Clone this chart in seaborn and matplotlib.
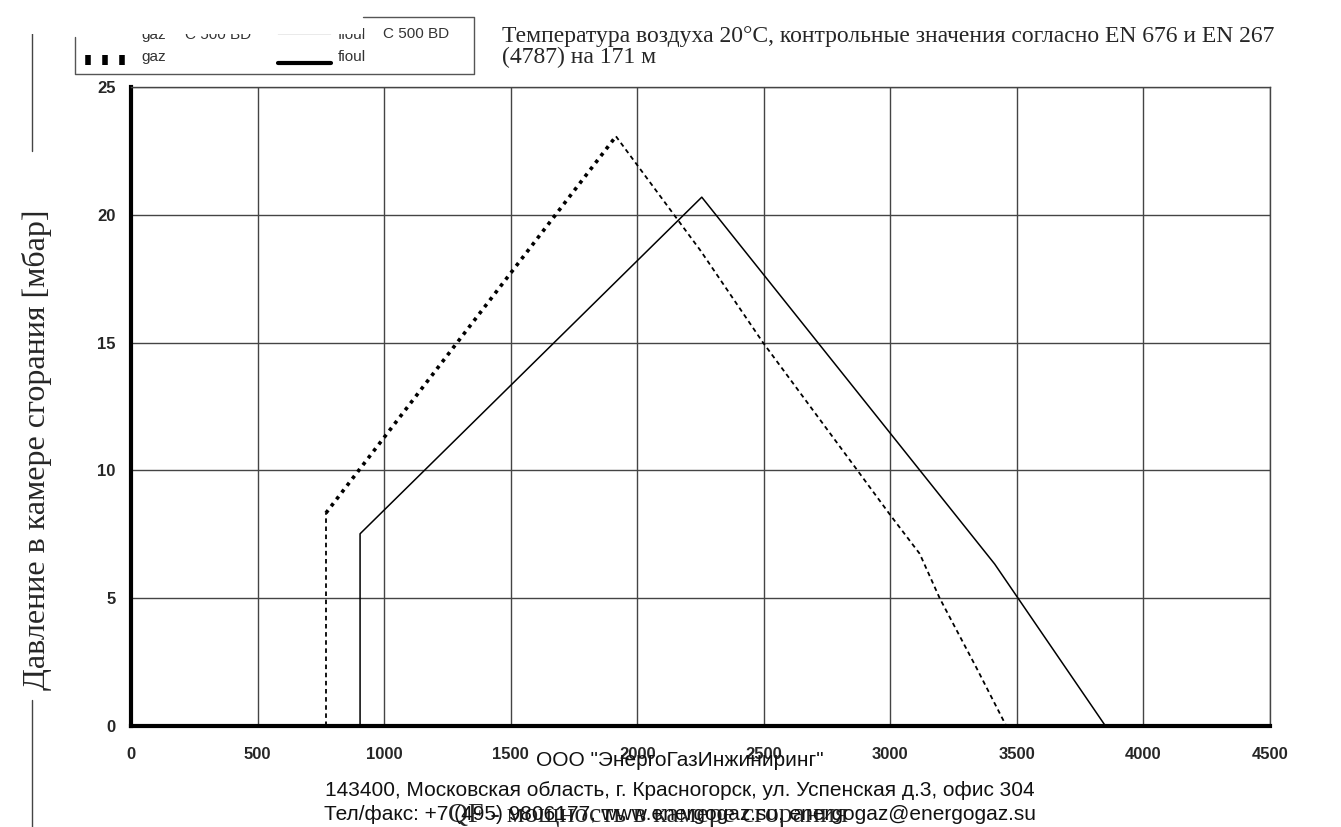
import matplotlib
matplotlib.use("Agg")
import matplotlib.pyplot as plt
from matplotlib.lines import Line2D
from matplotlib.patches import Rectangle
import seaborn as sns
import pandas as pd

# Courbes de fonctionnement
gaz_x = [770, 770, 1916, 2250, 2497, 2870, 3000, 3116, 3195, 3339, 3458]
gaz_y = [0, 8.33, 23.07, 18.6, 15.0, 10.0, 8.25, 6.74, 5.0, 2.3, 0]

fioul_x = [905, 905, 2255, 3412, 3850]
fioul_y = [0, 7.52, 20.69, 6.34, 0]

x_ticks = [0, 500, 1000, 1500, 2000, 2500, 3000, 3500, 4000, 4500]
y_ticks = [0, 5, 10, 15, 20, 25]

titre = "Температура воздуха 20°C, контрольные значения согласно EN 676 и EN 267\n(4787) на 171 м"
label_y = "Давление в камере сгорания [мбар]"
label_x = "QF - мощность в камере сгорания"
adresse = ['ООО "ЭнергоГазИнжиниринг"',
           "143400, Московская область, г. Красногорск, ул. Успенская д.3, офис 304",
           "Тел/факс: +7 (495) 9806177, www.energogaz.su, energogaz@energogaz.su"]

sns.set_style("white")
plt.rcParams['font.family'] = ['Liberation Sans', 'DejaVu Sans']

W, H = 1341, 827
fig = plt.figure(figsize=(W / 100, H / 100), dpi=100)


def fx(px):
    return px / W


def fy(py):
    return 1 - py / H


ax = fig.add_axes([fx(131), fy(726), fx(1270) - fx(131), fy(87) - fy(726)])

df_gaz = pd.DataFrame({"x": gaz_x, "y": gaz_y})
df_fioul = pd.DataFrame({"x": fioul_x, "y": fioul_y})

# gaz : montée en pointillé épais, le reste en tirets fins
sns.lineplot(data=df_gaz.iloc[0:2], x="x", y="y", sort=False, estimator=None,
             color="black", lw=1.3, linestyle=(0, (2.5, 2)), ax=ax)
sns.lineplot(data=df_gaz.iloc[1:3], x="x", y="y", sort=False, estimator=None,
             color="black", lw=2.6, linestyle=(0, (1, 1.4)), ax=ax)
sns.lineplot(data=df_gaz.iloc[2:], x="x", y="y", sort=False, estimator=None,
             color="black", lw=1.3, linestyle=(0, (2.5, 2)), ax=ax)
# fioul
sns.lineplot(data=df_fioul, x="x", y="y", sort=False, estimator=None,
             color="black", lw=1.1, ax=ax)

ax.set_xlim(0, 4500)
ax.set_ylim(0, 25)
ax.set_xticks(x_ticks)
ax.set_yticks(y_ticks)
ax.grid(True, color="#444444", lw=1)
ax.set_xlabel("")
ax.set_ylabel("")
for s in ["top", "right"]:
    ax.spines[s].set_color("#444444")
    ax.spines[s].set_linewidth(1)
for s in ["left", "bottom"]:
    ax.spines[s].set_color("black")
    ax.spines[s].set_linewidth(3)
ax.tick_params(axis="both", direction="out", length=5, width=2.5, color="black",
               labelsize=12, pad=10)
ax.tick_params(axis="y", pad=6)
for lab in ax.get_xticklabels() + ax.get_yticklabels():
    lab.set_fontweight("bold")

# titre
fig.text(fx(502), fy(47), titre, fontsize=17, family="Liberation Serif",
         ha="left", va="center", linespacing=1.0)

# axes
fig.text(fx(648), fy(815), label_x, fontsize=20, family="Liberation Serif",
         ha="center", va="center")
fig.text(fx(37), fy(450), label_y, fontsize=23, family="Liberation Serif",
         rotation=90, ha="center", va="center")

# coordonnées en bas
for txt, py in zip(adresse, [760, 790, 814]):
    fig.text(fx(680), fy(py), txt, fontsize=15, ha="center", va="center",
             color="#111111")

# traits verticaux autour du titre de l'axe y
fig.add_artist(Line2D([fx(32), fx(32)], [fy(0), fy(151)], color="#444444", lw=1))
fig.add_artist(Line2D([fx(32), fx(32)], [fy(700), fy(H)], color="#444444", lw=1))

# légende (partiellement masquée en haut)
leg_col = "#333333"
for py in [29, 60]:
    fig.add_artist(Line2D([fx(88), fx(105), fx(122)], [fy(py)] * 3, ls="none",
                          marker="|", ms=7, mew=4, color="black"))
    fig.add_artist(Line2D([fx(278), fx(331)], [fy(py + 3), fy(py + 3)],
                          color="black", lw=3))
fig.text(fx(141), fy(35), "gaz", fontsize=11, color=leg_col, va="center")
fig.text(fx(185), fy(35), "C 500 BD", fontsize=11, color=leg_col, va="center")
fig.text(fx(338), fy(35), "fioul", fontsize=11, color=leg_col, va="center")
fig.text(fx(141), fy(57), "gaz", fontsize=11, color=leg_col, va="center")
fig.text(fx(338), fy(57), "fioul", fontsize=11, color=leg_col, va="center")
fig.add_artist(Rectangle((0, fy(34)), fx(363), 1 - fy(34), transform=fig.transFigure,
                         facecolor="white", edgecolor="none", zorder=5))
fig.text(fx(383), fy(34), "C 500 BD", fontsize=11, color=leg_col, va="center", zorder=6)
box = dict(color="#555555", lw=1, zorder=6)
fig.add_artist(Line2D([fx(75), fx(75), fx(474), fx(474), fx(363)],
                      [fy(37), fy(74), fy(74), fy(17), fy(17)], **box))

fig.savefig("out.png", dpi=100)
